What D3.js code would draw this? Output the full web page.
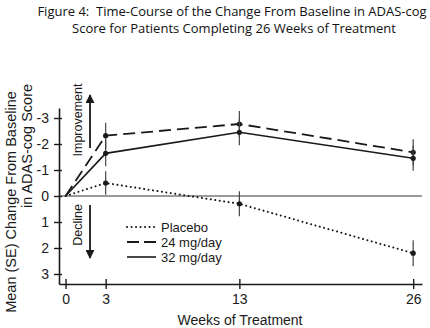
<!DOCTYPE html>
<html><head><meta charset="utf-8">
<script src="https://cdn.jsdelivr.net/npm/d3@7"></script>
<style>html,body{margin:0;padding:0;background:#fff;} svg{display:block;} .pre{white-space:pre;}</style>
</head><body>
<script>
const weeks = [0, 3, 13, 26];
const placebo = [0, -0.5, 0.3, 2.2];
const placeboSE = [0, 0.45, 0.48, 0.5];
const mg24 = [0, -2.32, -2.77, -1.68];
const mg24SE = [0, 0.5, 0.5, 0.5];
const mg32 = [0, -1.64, -2.45, -1.45];
const mg32SE = [0, 0.5, 0.5, 0.48];
const yTicks = [-3, -2, -1, 0, 1, 2, 3];
const xTicks = [0, 3, 13, 26];
const seriesNames = ["Placebo", "24 mg/day", "32 mg/day"];
const titleLines = ["Figure 4:  Time-Course of the Change From Baseline in ADAS-cog",
                    "Score for Patients Completing 26 Weeks of Treatment"];

const W = 430, H = 328;
const svg = d3.select("body").append("svg").attr("width", W).attr("height", H);
const ink = "#1a1a1a";

const x = d3.scaleLinear().domain([-0.49, 26.66]).range([59, 422]);
const y = d3.scaleLinear().domain([-3.385, 3.385]).range([108, 284]);

// title
svg.append("text").attr("class", "pre").attr("x", 232).attr("y", 16).attr("text-anchor", "middle")
  .attr("font-family", "Open Sans").attr("font-size", 13).attr("fill", "#111")
  .text(titleLines[0]);
svg.append("text").attr("x", 234).attr("y", 33).attr("text-anchor", "middle")
  .attr("font-family", "Open Sans").attr("font-size", 13).attr("fill", "#111")
  .text(titleLines[1]);

// zero line
svg.append("line").attr("x1", x.range()[0]).attr("x2", x.range()[1])
  .attr("y1", y(0)).attr("y2", y(0)).attr("stroke", "#777").attr("stroke-width", 1.3);

// axes
const yAxis = d3.axisLeft(y).tickValues(yTicks).tickSize(0).tickFormat(d => String(d));
const gy = svg.append("g").attr("transform", `translate(${x.range()[0]},0)`).call(yAxis);
gy.select(".domain").attr("stroke", ink).attr("stroke-width", 1.6);
gy.selectAll(".tick line").remove();
gy.selectAll(".tick").append("line").attr("x1", -5).attr("x2", 3).attr("stroke", ink).attr("stroke-width", 1.4);
gy.selectAll(".tick text").attr("x", -10).attr("font-family", "Liberation Sans").attr("font-size", 14).attr("fill", ink);

const xAxis = d3.axisBottom(x).tickValues(xTicks).tickSize(0);
const gx = svg.append("g").attr("transform", `translate(0,${y.range()[1]})`).call(xAxis);
gx.select(".domain").attr("stroke", ink).attr("stroke-width", 1.6);
gx.selectAll(".tick line").remove();
gx.selectAll(".tick").append("line").attr("y1", -5).attr("y2", 5).attr("stroke", ink).attr("stroke-width", 1.4);
gx.selectAll(".tick text").attr("y", 10).attr("font-family", "Liberation Sans").attr("font-size", 14).attr("fill", ink);

// axis titles
svg.append("text").attr("x", 240).attr("y", 325).attr("text-anchor", "middle")
  .attr("font-family", "Liberation Sans").attr("font-size", 14).attr("fill", ink).text("Weeks of Treatment");
svg.append("text").attr("transform", "translate(16,202) rotate(-90)").attr("text-anchor", "middle")
  .attr("font-family", "Liberation Sans").attr("font-size", 14.5).attr("fill", ink).text("Mean (SE) Change From Baseline");
svg.append("text").attr("transform", "translate(31.5,146) rotate(-90)").attr("text-anchor", "middle")
  .attr("font-family", "Liberation Sans").attr("font-size", 14.5).attr("fill", ink).text("in ADAS-cog Score");

// arrows
const defs = svg.append("defs");
defs.append("marker").attr("id", "ah").attr("viewBox", "0 0 10 10").attr("refX", 9).attr("refY", 5)
  .attr("markerWidth", 9).attr("markerHeight", 9).attr("markerUnits", "userSpaceOnUse").attr("orient", "auto")
  .append("path").attr("d", "M0,0 L10,5 L0,10 Z").attr("fill", ink);
svg.append("line").attr("x1", 90).attr("x2", 90).attr("y1", 148).attr("y2", 95)
  .attr("stroke", ink).attr("stroke-width", 1.8).attr("marker-end", "url(#ah)");
svg.append("line").attr("x1", 90).attr("x2", 90).attr("y1", 205).attr("y2", 258)
  .attr("stroke", ink).attr("stroke-width", 1.8).attr("marker-end", "url(#ah)");
svg.append("text").attr("transform", "translate(82,120) rotate(-90)").attr("text-anchor", "middle")
  .attr("font-family", "Liberation Sans").attr("font-size", 12.5).attr("fill", ink).text("Improvement");
svg.append("text").attr("transform", "translate(82,225) rotate(-90)").attr("text-anchor", "middle")
  .attr("font-family", "Liberation Sans").attr("font-size", 12.5).attr("fill", ink).text("Decline");

// series
const series = [
  {name: seriesNames[0], vals: placebo, se: placeboSE, dash: "0.1,4.4", w: 2, cap: "round"},
  {name: seriesNames[1], vals: mg24, se: mg24SE, dash: "12,6", w: 1.8, cap: "butt"},
  {name: seriesNames[2], vals: mg32, se: mg32SE, dash: null, w: 1.6, cap: "butt"}
];
const line = d3.line().x(d => x(d.w)).y(d => y(d.v));

series.forEach(s => {
  const pts = weeks.map((w, i) => ({w, v: s.vals[i], se: s.se[i]}));
  svg.append("g").selectAll("line").data(pts.filter(p => p.w > 0)).join("line")
    .attr("x1", p => x(p.w)).attr("x2", p => x(p.w))
    .attr("y1", p => y(p.v - p.se)).attr("y2", p => y(p.v + p.se))
    .attr("stroke", "#444").attr("stroke-width", 1.2);
  svg.append("path").datum(pts).attr("d", line).attr("fill", "none")
    .attr("stroke", ink).attr("stroke-width", s.w).attr("stroke-linecap", s.cap)
    .attr("stroke-dasharray", s.dash);
  svg.append("g").selectAll("circle").data(pts.filter(p => p.w > 0)).join("circle")
    .attr("cx", p => x(p.w)).attr("cy", p => y(p.v)).attr("r", 2.6).attr("fill", ink);
});

// legend
const leg = svg.append("g");
series.forEach((s, i) => {
  const yy = 227 + i * 15;
  leg.append("line").attr("x1", 127).attr("x2", 156).attr("y1", yy).attr("y2", yy)
    .attr("stroke", ink).attr("stroke-width", s.w).attr("stroke-linecap", s.cap)
    .attr("stroke-dasharray", i === 1 ? "12,5" : s.dash);
  leg.append("text").attr("x", 161).attr("y", yy).attr("dy", "0.35em")
    .attr("font-family", "Liberation Sans").attr("font-size", 13).attr("fill", ink).text(s.name);
});
</script>
</body></html>
